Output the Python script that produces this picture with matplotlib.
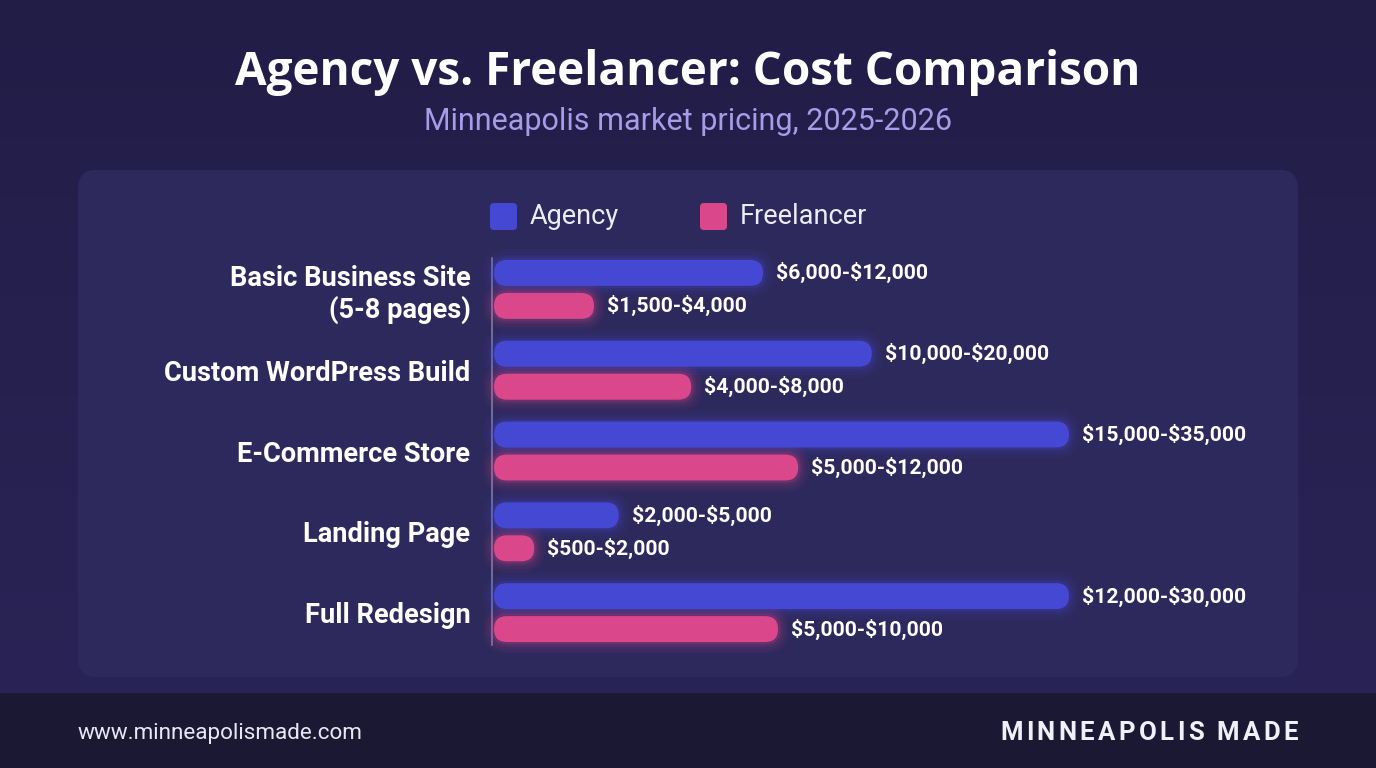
import matplotlib
matplotlib.use("Agg")
import matplotlib.pyplot as plt
from matplotlib.patches import FancyBboxPatch, Rectangle
import numpy as np

# ---------------- data ----------------
categories = ["Basic Business Site\n(5-8 pages)", "Custom WordPress Build",
              "E-Commerce Store", "Landing Page", "Full Redesign"]
series_names = ["Agency", "Freelancer"]
# bar lengths (% of the longest bar)
agency_bar = [46.8, 65.7, 100.0, 21.7, 100.0]
freelancer_bar = [17.4, 34.3, 52.9, 7.0, 49.4]
agency_labels = ["$6,000-$12,000", "$10,000-$20,000", "$15,000-$35,000",
                 "$2,000-$5,000", "$12,000-$30,000"]
freelancer_labels = ["$1,500-$4,000", "$4,000-$8,000", "$5,000-$12,000",
                     "$500-$2,000", "$5,000-$10,000"]
title = "Agency vs. Freelancer: Cost Comparison"
subtitle = "Minneapolis market pricing, 2025-2026"
footer_left = "www.minneapolismade.com"
footer_right = "MINNEAPOLIS MADE"

# ---------------- style ----------------
W, H = 1376, 768
BG = "#241f4b"
PANEL = "#2e295c"
FOOT = "#1b1834"
BLUE = "#4548d2"
PINK = "#db478b"
FONT = ["Roboto", "DejaVu Sans"]

fig = plt.figure(figsize=(W / 100, H / 100), dpi=100)
fig.patch.set_facecolor(BG)

bg = fig.add_axes([0, 0, 1, 1], zorder=0)
bg.set_xlim(0, W)
bg.set_ylim(H, 0)
bg.axis("off")

# subtle vertical background gradient
grad = np.linspace(0, 1, 256).reshape(-1, 1)
from matplotlib.colors import LinearSegmentedColormap
cmap_bg = LinearSegmentedColormap.from_list("bg", ["#221d47", "#2a2456"])
bg.imshow(grad, extent=[0, W, 693, 0], cmap=cmap_bg, aspect="auto", zorder=0)

# panel and footer
bg.add_patch(FancyBboxPatch((78, 170), 1220, 507,
                            boxstyle="round,pad=0,rounding_size=18",
                            facecolor=PANEL, edgecolor="none", zorder=1))
bg.add_patch(Rectangle((0, 693), W, H - 693, facecolor=FOOT, edgecolor="none", zorder=1))

# titles
bg.text(688, 72, title, ha="center", va="center", fontsize=33,
        fontweight="bold", family=["Open Sans", "DejaVu Sans"], color="white", zorder=2)
bg.text(688, 121, subtitle, ha="center", va="center", fontsize=22,
        family=FONT, color="#a89be8", zorder=2)

# legend
for (sx, tx), name, col in zip([(490, 530), (700, 740)], series_names, [BLUE, PINK]):
    bg.add_patch(FancyBboxPatch((sx, 203), 27, 27,
                                boxstyle="round,pad=0,rounding_size=4",
                                facecolor=col, edgecolor="none", zorder=2))
    bg.text(tx, 217, name, ha="left", va="center", fontsize=19.5,
            family=FONT, color="#ecebf7", zorder=2)

# footer texts
bg.text(78, 733, footer_left, ha="left", va="center", fontsize=16.2,
        family=FONT, color="#e8e7f2", zorder=2)
renderer = fig.canvas.get_renderer()
chars = []
widths = []
for ch in footer_right:
    t = bg.text(0, 733, ch if ch != " " else "\u00a0", ha="left", va="center",
                fontsize=18.5, fontweight="semibold", family=FONT, color="#f0f0f8",
                zorder=2)
    chars.append(t)
    widths.append(t.get_window_extent(renderer).width if ch != " " else 6.0)
x_end, x_start = 1298, 1000
track = (x_end - x_start - sum(widths)) / (len(chars) - 1)
cx = x_start
for t, w in zip(chars, widths):
    t.set_x(cx)
    cx += w + track

# ---------------- bar chart ----------------
left_px, top_px, wpx, hpx = 494, 249, 575, 404
ax = fig.add_axes([left_px / W, 1 - (top_px + hpx) / H, wpx / W, hpx / H], zorder=2)
ax.set_facecolor("none")
ax.set_xlim(0, 100)
ax.set_ylim(len(categories) - 0.5, -0.5)
for s in ax.spines.values():
    s.set_visible(False)

px_x = wpx / 100.0
px_y = hpx / len(categories)
bar_h = 26 / px_y
off = 16.5 / px_y
y = np.arange(len(categories))

bars_a = ax.barh(y - off, agency_bar, height=bar_h, alpha=0)
bars_f = ax.barh(y + off, freelancer_bar, height=bar_h, alpha=0)


def pill(x, yy, w, h, color, grow=0.0, alpha=1.0, z=3):
    gx, gy = grow / px_x, grow / px_y
    x0, y0, w2, h2 = x - gx, yy - gy, w + 2 * gx, h + 2 * gy
    r = min(h2 * px_y / 2 / px_x, w2 / 2)
    p = FancyBboxPatch((x0, y0), w2, h2,
                       boxstyle=f"round,pad=0,rounding_size={r}",
                       mutation_aspect=px_x / px_y,
                       facecolor=color, edgecolor="none", alpha=alpha,
                       zorder=z, clip_on=False)
    ax.add_patch(p)


for bars, col, labels in [(bars_a, BLUE, agency_labels), (bars_f, PINK, freelancer_labels)]:
    for rect, lab in zip(bars, labels):
        x, yy, w, h = rect.get_x(), rect.get_y(), rect.get_width(), rect.get_height()
        for g, a in [(11, 0.05), (8, 0.07), (5, 0.10), (2.5, 0.16)]:
            pill(x, yy, w, h, col, grow=g, alpha=a, z=2)
        pill(x, yy, w, h, col, z=3)
        ax.text(x + w + 13 / px_x, yy + h / 2, lab, ha="left", va="center",
                fontsize=15.2, fontweight="bold", family=FONT, color="white",
                zorder=4, clip_on=False, parse_math=False)

# baseline
ax.plot([-0.35, -0.35], [-0.39, len(categories) - 0.6], color="#8582ad",
        lw=1.1, clip_on=False, zorder=1)

ax.set_xticks([])
ax.set_yticks(y)
ax.set_yticklabels(categories, fontsize=19.6, fontweight="bold", family=FONT,
                   color="white")
for lbl in ax.get_yticklabels():
    lbl.set_linespacing(1.17)
ax.tick_params(axis="y", length=0, pad=17)

fig.savefig("out.png", dpi=100, facecolor=BG)
